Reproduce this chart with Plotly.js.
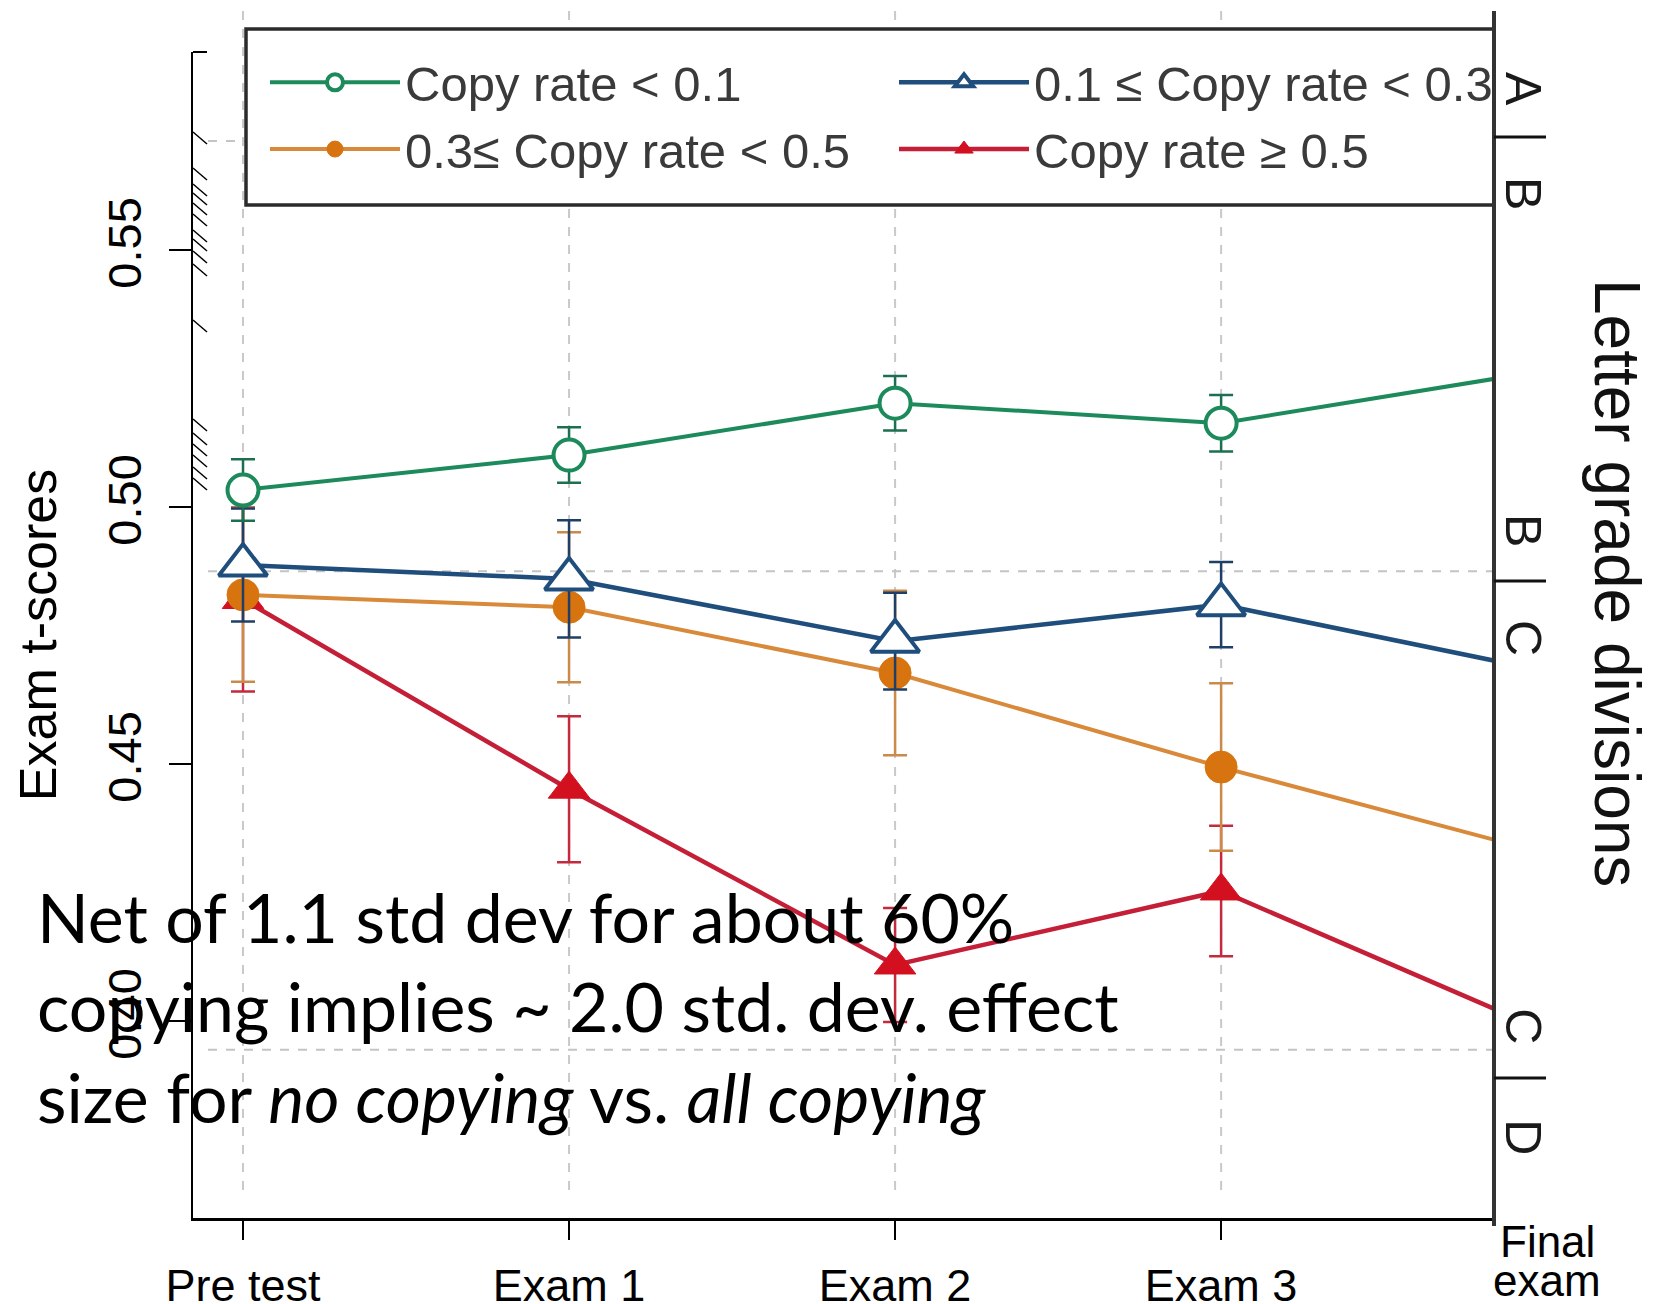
<!DOCTYPE html>
<html>
<head>
<meta charset="utf-8">
<script src="https://cdn.plot.ly/plotly-3.0.1.min.js"></script>
<style>
  html, body { margin: 0; padding: 0; background: #ffffff; }
  #chart { width: 1657px; height: 1304px; }
</style>
</head>
<body>
<div id="chart"></div>
<script>
// ---- Data -------------------------------------------------------------
// Exam sessions along the x axis (index 4 lies just past the right edge)
const sessions = ['Pre test', 'Exam 1', 'Exam 2', 'Exam 3', 'Final exam'];

// Group names shown in the legend
const seriesNames = [
  'Copy rate < 0.1',
  '0.1 \u2264 Copy rate < 0.3',
  '0.3\u2264 Copy rate < 0.5',
  'Copy rate \u2265 0.5'
];

// Mean exam t-scores per copy-rate group
const lowCopy   = [0.5033, 0.5101, 0.5202, 0.5163, 0.5266];
const someCopy  = [0.4887, 0.4860, 0.4739, 0.4810, 0.4680];
const midCopy   = [0.4829, 0.4805, 0.4677, 0.4494, 0.4325];
const highCopy  = [0.4820, 0.4451, 0.4109, 0.4253, 0.3979];

// Error-bar half widths (pre test .. exam 3)
const lowCopyErr  = [0.0060, 0.0054, 0.0053, 0.0055];
const someCopyErr = [0.0110, 0.0114, 0.0094, 0.0083];
const midCopyErr  = [0.0169, 0.0146, 0.0160, 0.0163];
const highCopyErr = [0.0179, 0.0142, 0.0111, 0.0127];

// Left axis ticks
const yTickVals = [0.40, 0.45, 0.50, 0.55];
const yTickText = ['0.40', '0.45', '0.50', '0.55'];

// Letter-grade scale on the right: division marks and letter positions
const gradeDivisions = [0.5720, 0.4856, 0.3889];
const gradeLetters   = ['A', 'B', 'B', 'C', 'C', 'D'];
const gradeLetterPos = [0.5813, 0.5611, 0.4955, 0.4745, 0.3990, 0.3774];
// Dashed grade boundary guides inside the panel
const gradeGuides    = [0.5712, 0.4875, 0.3944];

// Short slanted strokes along the left axis line
const axisHatches = [0.57296, 0.56595, 0.56284, 0.56109, 0.55914, 0.55700,
                     0.55389, 0.55214, 0.54981, 0.54728, 0.53638, 0.51712,
                     0.51440, 0.51226, 0.51012, 0.50778, 0.50564];

// ---- Geometry ---------------------------------------------------------
const W = 1657, H = 1304;
const M = { l: 193, r: 163, t: 52, b: 86 };
const plotW = W - M.l - M.r;
const plotH = H - M.t - M.b;
const X_RANGE = [-0.1534, 3.837];
const Y_RANGE = [0.36167, 0.58852];
const px = x => (x - M.l) / plotW;           // pixel column -> paper x
const py = y => (H - M.b - y) / plotH;       // pixel row -> paper y
const xToPaper = v => (v - X_RANGE[0]) / (X_RANGE[1] - X_RANGE[0]);
const yPerPx = (Y_RANGE[1] - Y_RANGE[0]) / plotH;

const FONT = 'Liberation Sans, Arial, Helvetica, sans-serif';
const xIdx = sessions.map((_, i) => i);

// ---- Traces (drawn bottom to top: red, orange, blue, green) -----------
function group(name, y, err, opt) {
  return {
    type: 'scatter', mode: 'lines+markers', name: name,
    x: xIdx, y: y, legendrank: opt.rank,
    line: { color: opt.line, width: opt.lw },
    marker: {
      symbol: opt.symbol, size: opt.size, color: opt.fill,
      line: { color: opt.edge, width: opt.mlw }
    },
    error_y: {
      type: 'data', array: err, visible: true,
      color: opt.err, thickness: 2.5, width: 12
    },
    hoverinfo: 'x+y'
  };
}

const traces = [
  group(seriesNames[3], highCopy, highCopyErr, {
    rank: 4, line: '#c41f37', lw: 4.5, symbol: 'triangle-up', size: 36,
    fill: '#d3101f', edge: '#d3101f', mlw: 1, err: '#c42a3e'
  }),
  group(seriesNames[2], midCopy, midCopyErr, {
    rank: 3, line: '#d8893a', lw: 4, symbol: 'circle', size: 32,
    fill: '#d8740f', edge: '#d8740f', mlw: 1, err: '#c98a4a'
  }),
  group(seriesNames[1], someCopy, someCopyErr, {
    rank: 2, line: '#1f4e7c', lw: 4.5, symbol: 'triangle-up', size: 42,
    fill: '#ffffff', edge: '#1f4e7c', mlw: 4, err: '#1f3f66'
  }),
  group(seriesNames[0], lowCopy, lowCopyErr, {
    rank: 1, line: '#1c8a5a', lw: 4, symbol: 'circle', size: 31,
    fill: '#ffffff', edge: '#1c8a5a', mlw: 4, err: '#1c7050'
  })
];

// ---- Shapes -----------------------------------------------------------
const shapes = [];
// vertical dashed guides at each session inside the range
xIdx.filter(i => i <= X_RANGE[1]).forEach(i => {
  shapes.push({
    type: 'line', xref: 'x', yref: 'paper', x0: i, x1: i,
    y0: py(1190), y1: py(8), layer: 'below',
    line: { color: '#c9c9c9', width: 2, dash: 'dash' }
  });
});
// horizontal dashed grade guides
gradeGuides.forEach(v => {
  shapes.push({
    type: 'line', xref: 'paper', yref: 'y', x0: px(208), x1: 1, y0: v, y1: v,
    layer: 'below', line: { color: '#c4c4c4', width: 2, dash: 'dash' }
  });
});
// legend frame
shapes.push({
  type: 'rect', xref: 'paper', yref: 'paper',
  x0: px(246), x1: 1, y0: py(205), y1: py(29), layer: 'below',
  fillcolor: '#ffffff', line: { color: '#2b2b2b', width: 3.5 }
});
// right-hand grade scale line
shapes.push({
  type: 'line', xref: 'paper', yref: 'paper', x0: 1, x1: 1,
  y0: py(1226), y1: py(11), layer: 'above',
  line: { color: '#333333', width: 4 }
});
// grade division marks
gradeDivisions.forEach(v => {
  shapes.push({
    type: 'line', xref: 'paper', yref: 'y', x0: 1, x1: 1 + 52 / plotW,
    y0: v, y1: v, layer: 'above', line: { color: '#111111', width: 3 }
  });
});
// cap at the top of the left axis line
shapes.push({
  type: 'line', xref: 'paper', yref: 'paper', x0: 0, x1: 14 / plotW,
  y0: 1, y1: 1, layer: 'above', line: { color: '#000000', width: 2 }
});
// slanted strokes on the left axis line
axisHatches.forEach(v => {
  shapes.push({
    type: 'line', xref: 'paper', yref: 'y', x0: 0, x1: 14 / plotW,
    y0: v, y1: v - 12 * yPerPx, layer: 'above',
    line: { color: '#000000', width: 1.5 }
  });
});

// ---- Annotations ------------------------------------------------------
const annotations = [];
// right axis letters
gradeLetters.forEach((t, i) => {
  annotations.push({
    text: t, xref: 'paper', yref: 'y', x: px(1523), y: gradeLetterPos[i],
    xanchor: 'center', yanchor: 'middle', showarrow: false, textangle: 90,
    font: { family: FONT, size: 50, color: '#1a1a1a' }
  });
});
// right axis title
annotations.push({
  text: 'Letter grade divisions', xref: 'paper', yref: 'paper',
  x: px(1617), y: py(583), xanchor: 'center', yanchor: 'middle',
  showarrow: false, textangle: 90,
  font: { family: FONT, size: 64, color: '#111111' }
});
// label for the final session, which sits beyond the plotted range
annotations.push({
  text: 'Final', xref: 'paper', yref: 'paper', x: xToPaper(4), y: py(1241),
  xanchor: 'center', yanchor: 'middle', showarrow: false,
  font: { family: FONT, size: 44, color: '#000000' }
});
annotations.push({
  text: 'exam', xref: 'paper', yref: 'paper', x: xToPaper(4), y: py(1280),
  xanchor: 'center', yanchor: 'middle', showarrow: false,
  font: { family: FONT, size: 44, color: '#000000' }
});
// commentary text
const noteLines = [
  'Net of 1.1 std dev for about 60%',
  'copying implies ~ 2.0 std. dev. effect',
  'size for <i>no copying</i> vs. <i>all copying</i>'
];
const noteCenters = [916, 1006, 1096];
noteLines.forEach((t, i) => {
  annotations.push({
    text: t, xref: 'paper', yref: 'paper', x: px(35), y: py(noteCenters[i]),
    xanchor: 'left', yanchor: 'middle', showarrow: false, align: 'left',
    font: { family: 'Lato, Carlito, sans-serif', size: 68, color: '#000000' }
  });
});

// ---- Layout -----------------------------------------------------------
const layout = {
  width: W, height: H,
  margin: M,
  paper_bgcolor: '#ffffff',
  plot_bgcolor: 'rgba(0,0,0,0)',
  showlegend: true,
  legend: {
    orientation: 'h', x: px(265), y: py(44), xanchor: 'left', yanchor: 'top',
    bgcolor: 'rgba(0,0,0,0)', borderwidth: 0,
    itemwidth: 130, entrywidth: 484, entrywidthmode: 'pixels',
    traceorder: 'normal',
    font: { family: FONT, size: 49, color: '#3a3a3a' }
  },
  xaxis: {
    range: X_RANGE, showgrid: false, zeroline: false,
    showline: true, linecolor: '#000000', linewidth: 2.5,
    tickvals: xIdx.slice(0, 4), ticktext: sessions.slice(0, 4),
    ticks: 'outside', ticklen: 19, tickwidth: 1.5, tickcolor: '#000000',
    ticklabelstandoff: 7,
    tickfont: { family: FONT, size: 45, color: '#000000' }
  },
  yaxis: {
    range: Y_RANGE, showgrid: false, zeroline: false,
    showline: true, linecolor: '#000000', linewidth: 2,
    tickvals: yTickVals, ticktext: yTickText, tickangle: -90,
    ticks: 'outside', ticklen: 22, tickwidth: 2, tickcolor: '#000000',
    ticklabelstandoff: 9,
    tickfont: { family: FONT, size: 47, color: '#000000' },
    title: { text: 'Exam t-scores', standoff: 25,
             font: { family: FONT, size: 52, color: '#000000' } }
  },
  shapes: shapes,
  annotations: annotations
};

Plotly.newPlot('chart', traces, layout, { displayModeBar: false, staticPlot: true });
</script>
</body>
</html>
